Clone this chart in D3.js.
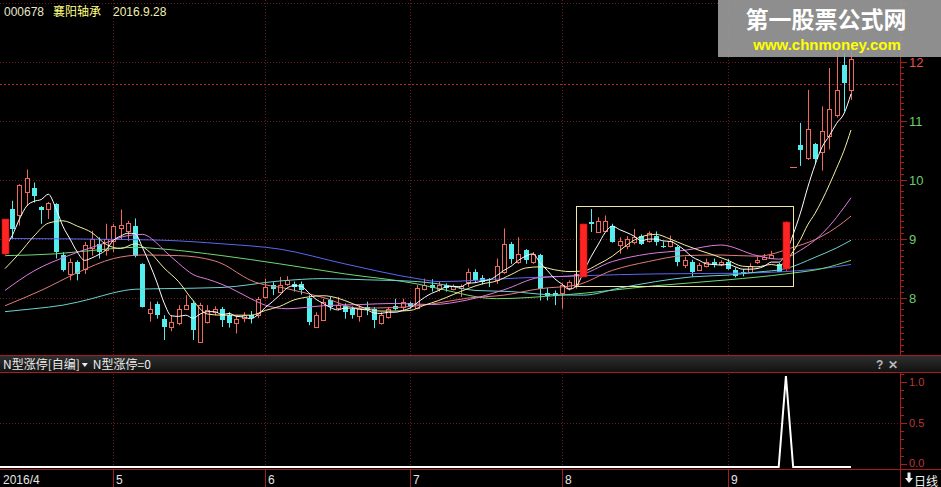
<!DOCTYPE html>
<html><head><meta charset="utf-8">
<script src="https://cdn.jsdelivr.net/npm/d3@7/dist/d3.min.js"></script>
<style>html,body{margin:0;padding:0;background:#000;overflow:hidden}</style>
</head><body><svg id="c" width="941" height="487"></svg>
<script>
// ---------------- DATA ----------------
const stockCode = "000678";
const stockName = "襄阳轴承";
const stockDate = "2016.9.28";

const opens = [8.73,9.50,9.39,9.79,9.85,9.53,9.50,9.58,8.72,8.40,
8.60,8.49,8.84,8.91,8.80,8.96,9.17,9.13,9.22,8.57,
7.73,7.89,7.64,7.50,7.56,7.81,7.90,7.25,7.59,7.75,
7.81,7.70,7.56,7.66,7.71,7.70,8.01,8.22,8.10,8.23,
8.23,8.23,7.99,7.50,7.62,7.95,7.82,7.86,7.80,7.69,
7.84,7.80,7.56,7.67,7.86,7.84,7.90,7.82,8.14,8.22,
8.14,8.21,8.14,8.16,8.27,8.43,8.33,8.32,8.29,8.43,
8.91,8.60,8.81,8.61,8.72,8.08,8.08,8.07,8.16,8.20,
8.35,9.28,9.11,9.13,9.21,8.89,8.88,8.94,9.05,8.96,
9.05,8.87,8.87,8.85,8.55,8.61,8.47,8.53,8.61,8.57,
8.61,8.47,8.44,8.43,8.61,8.65,8.67,8.57,8.49,10.21,
10.58,10.37,10.60,10.46,10.74,11.10,11.94,11.52];
const highs = [9.33,9.64,9.92,10.17,9.95,9.55,9.62,9.60,8.77,8.66,
8.63,8.94,9.13,9.02,9.25,9.25,9.49,9.30,9.34,8.58,
7.93,7.93,7.70,7.70,7.87,8.04,7.95,7.91,7.87,7.85,
7.84,7.75,7.70,7.75,7.77,8.01,8.32,8.26,8.35,8.36,
8.27,8.27,8.04,7.75,7.98,8.01,8.01,7.90,7.85,7.87,
7.93,7.84,7.75,7.84,7.98,7.98,7.93,8.21,8.32,8.31,
8.27,8.24,8.22,8.22,8.49,8.48,8.38,8.33,8.66,9.17,
8.94,9.02,8.82,8.77,8.74,8.16,8.12,8.24,8.29,8.52,
9.25,9.50,9.36,9.39,9.25,9.02,9.04,9.16,9.07,9.12,
9.12,8.95,9.05,8.88,8.69,8.64,8.59,8.66,8.66,8.63,
8.65,8.51,8.48,8.58,8.69,8.74,8.79,8.59,9.29,10.21,
10.96,11.52,10.62,11.24,11.89,12.25,12.15,12.30];
const lows = [8.70,8.99,9.22,9.55,9.61,9.25,9.33,8.66,8.44,8.29,
8.29,8.40,8.71,8.66,8.71,8.77,8.99,8.96,8.68,7.83,
7.59,7.64,7.28,7.43,7.53,7.80,7.28,7.24,7.56,7.70,
7.50,7.49,7.39,7.58,7.56,7.65,7.98,8.04,8.07,8.20,
8.10,8.05,7.53,7.48,7.60,7.78,7.78,7.64,7.64,7.59,
7.70,7.48,7.54,7.64,7.78,7.78,7.81,7.80,8.12,8.10,
8.10,8.10,8.12,8.01,8.18,8.26,8.22,8.18,8.23,8.40,
8.57,8.57,8.57,8.57,7.95,7.95,7.87,7.81,8.12,8.15,
8.35,9.11,9.10,9.12,8.93,8.74,8.82,8.90,8.89,8.93,
8.88,8.84,8.85,8.53,8.50,8.35,8.45,8.51,8.51,8.53,
8.47,8.34,8.36,8.42,8.57,8.64,8.65,8.43,8.44,10.21,
10.23,10.33,10.26,10.15,10.51,11.05,11.16,11.35];
const closes = [9.33,9.16,9.90,10.03,9.72,9.49,9.60,8.77,8.47,8.61,
8.39,8.89,9.00,8.77,8.99,9.22,9.23,9.26,8.71,7.84,
7.80,7.70,7.50,7.59,7.81,7.88,7.45,7.87,7.78,7.81,
7.62,7.56,7.64,7.70,7.66,7.98,8.18,8.14,8.22,8.29,
8.18,8.12,7.58,7.70,7.93,7.84,7.88,7.76,7.70,7.82,
7.78,7.62,7.71,7.81,7.81,7.93,7.86,8.16,8.22,8.16,
8.22,8.16,8.19,8.19,8.44,8.29,8.27,8.29,8.54,8.91,
8.66,8.74,8.64,8.74,8.15,8.03,8.03,8.22,8.27,8.40,
9.25,9.24,9.30,9.30,8.94,8.95,8.99,9.02,8.91,9.09,
8.94,8.85,8.95,8.60,8.64,8.43,8.55,8.61,8.55,8.61,
8.49,8.36,8.41,8.53,8.64,8.69,8.72,8.44,9.28,10.21,
10.50,10.85,10.35,10.82,11.20,11.52,11.64,12.05];
const highlightDays = [0, 80, 108];

const ma5 = [8.85,9.05,9.33,9.55,9.63,9.66,9.75,9.52,9.21,8.99,
8.77,8.63,8.67,8.73,8.81,8.97,9.04,9.09,9.08,8.85,
8.57,8.26,7.91,7.69,7.68,7.70,7.65,7.72,7.76,7.76,
7.71,7.73,7.68,7.67,7.64,7.71,7.83,7.93,8.04,8.16,
8.20,8.19,8.08,7.97,7.90,7.83,7.79,7.82,7.82,7.80,
7.79,7.74,7.73,7.75,7.75,7.78,7.82,7.91,8.00,8.07,
8.12,8.18,8.19,8.18,8.24,8.25,8.28,8.30,8.37,8.46,
8.53,8.63,8.70,8.74,8.59,8.46,8.32,8.23,8.14,8.19,
8.43,8.68,8.89,9.10,9.21,9.15,9.10,9.04,8.96,8.99,
8.99,8.96,8.95,8.89,8.80,8.69,8.63,8.57,8.56,8.55,
8.56,8.52,8.48,8.48,8.49,8.53,8.60,8.60,8.75,9.07,
9.43,9.86,10.24,10.55,10.74,10.95,11.11,11.45];
const ma10 = [[0,8.49],[2,8.75],[4,9.04],[6,9.26],[8,9.30],[10,9.21],[12,9.10],[14,8.90],[16,8.83],[18,8.91],
[20,8.77],[22,8.50],[24,8.27],[26,7.95],[28,7.72],[30,7.70],[32,7.70],[34,7.70],[36,7.78],[38,7.85],
[40,7.96],[42,8.01],[44,8.03],[46,7.99],[48,7.90],[50,7.81],[52,7.77],[54,7.77],[56,7.78],[58,7.87],
[60,7.95],[62,8.05],[64,8.15],[66,8.23],[68,8.28],[70,8.39],[72,8.50],[74,8.52],[76,8.47],[78,8.44],
[80,8.45],[82,8.56],[84,8.70],[86,8.89],[88,9.03],[90,9.07],[92,8.99],[94,8.89],[96,8.80],[98,8.72],
[100,8.63],[102,8.53],[104,8.52],[106,8.56],[107,8.54],[108,8.62],[109,8.78],[110,8.98],[111,9.23],
[112,9.42],[113,9.65],[114,9.91],[115,10.19],[116,10.48],[117,10.84]];
const ma20 = [[0,8.12],[4,8.45],[9,8.72],[14,8.93],[17,9.05],[19,9.07],[21,8.92],[22,8.80],[24,8.58],[26,8.39],
[28,8.31],[29,8.27],[31,8.17],[34,7.98],[36,7.87],[39,7.81],[44,7.86],[49,7.88],[54,7.90],[59,7.88],
[64,7.96],[69,8.13],[74,8.34],[79,8.37],[84,8.61],[89,8.74],[94,8.80],[99,8.89],[104,8.71],[107,8.65],
[108,8.67],[110,8.80],[112,8.97],[114,9.21],[116,9.52],[117,9.69]];
const ma30 = [[0,7.86],[5,8.12],[10,8.42],[15,8.66],[19,8.72],[24,8.71],[29,8.62],[31,8.51],[32,8.43],[34,8.29],
[39,8.15],[44,8.00],[49,7.82],[54,7.83],[59,7.89],[64,7.99],[69,8.04],[74,8.15],[79,8.21],[84,8.46],
[89,8.61],[94,8.71],[99,8.72],[104,8.70],[109,8.85],[112,8.98],[114,9.11],[116,9.28],[117,9.38]];
const ma60 = [[0,7.76],[4,7.81],[8,7.87],[12,7.98],[15,8.08],[18,8.14],[22,8.15],[30,8.17],[38,8.28],[44,8.32],
[50,8.30],[57,8.27],[60,8.23],[65,8.12],[70,8.10],[75,8.05],[80,8.04],[85,8.16],[90,8.27],[95,8.35],
[100,8.38],[104,8.43],[108,8.49],[112,8.68],[115,8.84],[117,8.97]];
const ma120 = [[0,8.71],[7,8.74],[14,8.82],[18,8.85],[22,8.82],[30,8.71],[38,8.57],[47,8.40],[57,8.23],[60,8.15],
[68,7.98],[77,8.04],[90,8.20],[100,8.30],[108,8.40],[113,8.49],[117,8.63]];
const ma250 = [[0,9.00],[18,8.98],[22,8.97],[30,8.91],[38,8.82],[47,8.57],[57,8.32],[60,8.27],[71,8.33],[80,8.37],
[90,8.40],[100,8.41],[108,8.44],[113,8.49],[117,8.56]];

const lastPriceLine = 11.62;
const boxFrom = 79, boxTo = 109, boxHigh = 9.545, boxLow = 8.195;

const priceTicks = [8, 9, 10, 11, 12];
const priceGrid = [8, 9, 10, 11, 12, 13];
const monthLabels = ["2016/4", "5", "6", "7", "8", "9"];
const monthStart = [0, 15, 36, 56, 77, 100];

const indicatorName = "N型涨停[自编]";
const indicatorValueText = "N型涨停=0";
const signal = [0,0,0,0,0,0,0,0,0,0, 0,0,0,0,0,0,0,0,0,0,
0,0,0,0,0,0,0,0,0,0, 0,0,0,0,0,0,0,0,0,0,
0,0,0,0,0,0,0,0,0,0, 0,0,0,0,0,0,0,0,0,0,
0,0,0,0,0,0,0,0,0,0, 0,0,0,0,0,0,0,0,0,0,
0,0,0,0,0,0,0,0,0,0, 0,0,0,0,0,0,0,0,0,0,
0,0,0,0,0,0,0,0,1,0, 0,0,0,0,0,0,0,0];
const indicatorTicks = [0, 0.5, 1.0];

// ---------------- DRAW ----------------
const W = 941, H = 487;
const svg = d3.select("#c");
svg.append("rect").attr("width", W).attr("height", H).attr("fill", "#000");

const x = d3.scaleLinear().domain([0, closes.length - 1]).range([5, 851]);
const y = d3.scaleLinear().domain([8, 12]).range([297.5, 61.5]);
const yi = d3.scaleLinear().domain([0, 1]).range([467, 376]);
const yl = d3.scaleLinear().domain([0, 1]).range([464, 382]);   // axis label positions
const px = i => Math.round(x(i));
const GRID = "#6a1c1c", AXIS = "#a81c1c";
const UP = "#f06a5c", DOWN = "#54ecec", LIMIT = "#ff2424";
const FONT = "'Liberation Sans', Arial, sans-serif";
const CJK = "'Noto Sans CJK SC', 'Noto Sans', sans-serif";

const defs = svg.append("defs");
defs.append("clipPath").attr("id", "mainClip").append("rect").attr("x", 0).attr("y", 0).attr("width", 900).attr("height", 355);
const hg = defs.append("linearGradient").attr("id", "hdr").attr("x1", 0).attr("x2", 0).attr("y1", 0).attr("y2", 1);
hg.append("stop").attr("offset", "0%").attr("stop-color", "#2e2e2e");
hg.append("stop").attr("offset", "100%").attr("stop-color", "#121212");

// grid lines
const grid = svg.append("g");
priceGrid.forEach(p => {
  const yy = Math.round(y(p)) + 0.5;
  if (yy < 0 || yy > 355) return;
  grid.append("line").attr("x1", 0).attr("x2", 900).attr("y1", yy).attr("y2", yy)
    .attr("stroke", GRID).attr("stroke-dasharray", "1,2");
});
monthStart.slice(1).forEach(i => {
  const xx = px(i) + 0.5;
  grid.append("line").attr("x1", xx).attr("x2", xx).attr("y1", 0).attr("y2", 355)
    .attr("stroke", GRID).attr("stroke-dasharray", "1,2");
  grid.append("line").attr("x1", xx).attr("x2", xx).attr("y1", 374).attr("y2", 468)
    .attr("stroke", GRID).attr("stroke-dasharray", "1,2");
});
{
  const yy = Math.round(yl(0.5)) + 0.5;
  grid.append("line").attr("x1", 0).attr("x2", 900).attr("y1", yy).attr("y2", yy)
    .attr("stroke", GRID).attr("stroke-dasharray", "1,2");
}
// last price line
{
  const yy = Math.round(y(lastPriceLine)) + 0.5;
  grid.append("line").attr("x1", 0).attr("x2", 900).attr("y1", yy).attr("y2", yy)
    .attr("stroke", "#b02828").attr("stroke-dasharray", "2,2");
}

const main = svg.append("g").attr("clip-path", "url(#mainClip)");

// candles
const cg = main.append("g");
closes.forEach((c, i) => {
  if (highlightDays.includes(i)) return;
  const o = opens[i], h = highs[i], l = lows[i];
  const cx = px(i);
  const up = c >= o;
  const col = up ? UP : DOWN;
  cg.append("line").attr("x1", cx + 0.5).attr("x2", cx + 0.5)
    .attr("y1", y(h)).attr("y2", y(l)).attr("stroke", col);
  const top = Math.round(y(Math.max(o, c))), bot = Math.round(y(Math.min(o, c)));
  if (h === l) {
    cg.append("line").attr("x1", cx - 3).attr("x2", cx + 4).attr("y1", top + 0.5).attr("y2", top + 0.5).attr("stroke", col);
  } else if (up) {
    cg.append("rect").attr("x", cx - 1.5).attr("y", top + 0.5).attr("width", 4)
      .attr("height", Math.max(1, bot - top)).attr("fill", "#000").attr("stroke", col);
  } else {
    cg.append("rect").attr("x", cx - 2).attr("y", top).attr("width", 5)
      .attr("height", Math.max(1, bot - top)).attr("fill", col);
  }
});

// moving averages
const ln = d3.line().x(d => x(d[0])).y(d => y(d[1])).curve(d3.curveMonotoneX);
const maSets = [
  [ma250, "#5a68f0"], [ma120, "#70d870"], [ma60, "#6cd2d2"], [ma30, "#e07c7c"],
  [ma20, "#e07ae0"], [ma10, "#f4f0a0"], [ma5.map((v, i) => [i, v]), "#ffffff"]
];
maSets.forEach(([pts, col]) => {
  main.append("path").attr("d", ln(pts)).attr("fill", "none").attr("stroke", col).attr("stroke-width", 1);
});

// highlighted (limit-up) candles on top
highlightDays.forEach(i => {
  const cx = px(i);
  const top = Math.round(y(closes[i])), bot = Math.round(y(opens[i]));
  main.append("line").attr("x1", cx + 0.5).attr("x2", cx + 0.5).attr("y1", y(highs[i])).attr("y2", y(lows[i])).attr("stroke", LIMIT);
  main.append("rect").attr("x", cx - 3).attr("y", top).attr("width", 7).attr("height", bot - top)
    .attr("fill", LIMIT).attr("stroke", "#c01010").attr("stroke-width", 0.6);
});

// box
main.append("rect").attr("x", px(boxFrom) + 0.5).attr("y", Math.round(y(boxHigh)) + 0.5)
  .attr("width", px(boxTo) - px(boxFrom)).attr("height", Math.round(y(boxLow)) - Math.round(y(boxHigh)))
  .attr("fill", "none").attr("stroke", "#eee8a8").attr("stroke-width", 1);

// header text
const hdr = svg.append("g").attr("font-size", 12);
hdr.append("text").attr("x", 4).attr("y", 16).attr("fill", "#e6e6c8").attr("font-family", FONT).text(stockCode);
hdr.append("text").attr("x", 53).attr("y", 16).attr("fill", "#ffff80").attr("font-family", CJK).text(stockName);
hdr.append("text").attr("x", 113).attr("y", 16).attr("fill", "#f0f0b0").attr("font-family", FONT).text(stockDate);

// right axis (price)
svg.append("line").attr("x1", 900.5).attr("x2", 900.5).attr("y1", 0).attr("y2", H).attr("stroke", AXIS);
d3.range(70, 131).forEach(k => {
  const p = k / 10;
  const yy = Math.round(y(p)) + 0.5;
  if (yy < 0 || yy > 354) return;
  const major = k % 10 === 0;
  svg.append("line").attr("x1", 901).attr("x2", major ? 907 : 904).attr("y1", yy).attr("y2", yy).attr("stroke", AXIS);
});
priceTicks.forEach(p => {
  svg.append("text").attr("x", 909).attr("y", y(p) + 5).attr("font-size", 13).attr("font-family", FONT)
    .attr("fill", p > lastPriceLine ? "#e05050" : "#6ccc6c").text(p);
});

// panel separators and indicator header
svg.append("rect").attr("x", 0).attr("y", 356).attr("width", W).attr("height", 16).attr("fill", "url(#hdr)");
[355.5, 372.5, 469.5].forEach(yy => svg.append("line").attr("x1", 0).attr("x2", W).attr("y1", yy).attr("y2", yy).attr("stroke", AXIS));
const t1 = svg.append("text").attr("x", 3).attr("y", 369).attr("font-size", 12).attr("font-family", CJK).attr("fill", "#ececec").text(indicatorName);
const t1w = t1.node().getComputedTextLength();
const triX = 3 + t1w + 2;
svg.append("path").attr("d", `M${triX},363 L${triX + 6},363 L${triX + 3},367 Z`).attr("fill", "#ececec");
svg.append("text").attr("x", triX + 11).attr("y", 369).attr("font-size", 12).attr("font-family", CJK).attr("fill", "#ececec").text(indicatorValueText);
svg.append("text").attr("x", 876).attr("y", 369).attr("font-size", 12).attr("font-weight", "bold").attr("font-family", FONT).attr("fill", "#b8b8b8").text("?");
svg.append("text").attr("x", 888).attr("y", 369).attr("font-size", 12).attr("font-weight", "bold").attr("font-family", FONT).attr("fill", "#b8b8b8").text("✕");

// indicator axis
d3.range(0, 12).forEach(k => {
  const yy = Math.round(yl(k / 10)) + 0.5;
  if (yy < 374 || yy > 469) return;
  svg.append("line").attr("x1", 901).attr("x2", k % 5 === 0 ? 907 : 904).attr("y1", yy).attr("y2", yy).attr("stroke", AXIS);
});
indicatorTicks.forEach(v => {
  svg.append("text").attr("x", 909).attr("y", yl(v) + (v === 0 ? 2.5 : 4)).attr("font-size", 11).attr("font-family", FONT)
    .attr("fill", "#b83a3a").text(v.toFixed(1));
});

// indicator line
const il = d3.line().x((d, i) => x(i)).y(d => yi(d));
svg.append("path").attr("d", il(signal)).attr("fill", "none").attr("stroke", "#ffffff").attr("stroke-width", 2);
svg.append("line").attr("x1", 0).attr("x2", x(0)).attr("y1", yi(0)).attr("y2", yi(0)).attr("stroke", "#fff").attr("stroke-width", 2);

// date axis
monthLabels.forEach((m, k) => {
  const xx = k === 0 ? 0 : px(monthStart[k]);
  if (k > 0) svg.append("line").attr("x1", xx + 0.5).attr("x2", xx + 0.5).attr("y1", 470).attr("y2", H).attr("stroke", AXIS);
  svg.append("text").attr("x", xx + 3).attr("y", 484).attr("font-size", 12).attr("font-family", FONT).attr("fill", "#e4e4e4").text(m);
});
svg.append("path").attr("d", "M905,478 L913,478 L909,483 Z M907.5,472.5 L910.5,472.5 L910.5,478 L907.5,478 Z").attr("fill", "#f0f0f0");
svg.append("text").attr("x", 914).attr("y", 485.5).attr("font-size", 12).attr("font-family", CJK).attr("fill", "#f0f0f0").text("日线");

// watermark
svg.append("rect").attr("x", 718).attr("y", 0).attr("width", 223).attr("height", 57).attr("fill", "#9a9a9a").attr("opacity", 0.92);
svg.append("text").attr("x", 826).attr("y", 28).attr("text-anchor", "middle").attr("font-size", 23).attr("font-weight", "bold")
  .attr("font-family", CJK).attr("fill", "#ffffff").text("第一股票公式网");
svg.append("text").attr("x", 827).attr("y", 50).attr("text-anchor", "middle").attr("font-size", 15).attr("font-weight", "bold")
  .attr("font-family", FONT).attr("fill", "#ffff00").text("www.chnmoney.com");
</script></body></html>
